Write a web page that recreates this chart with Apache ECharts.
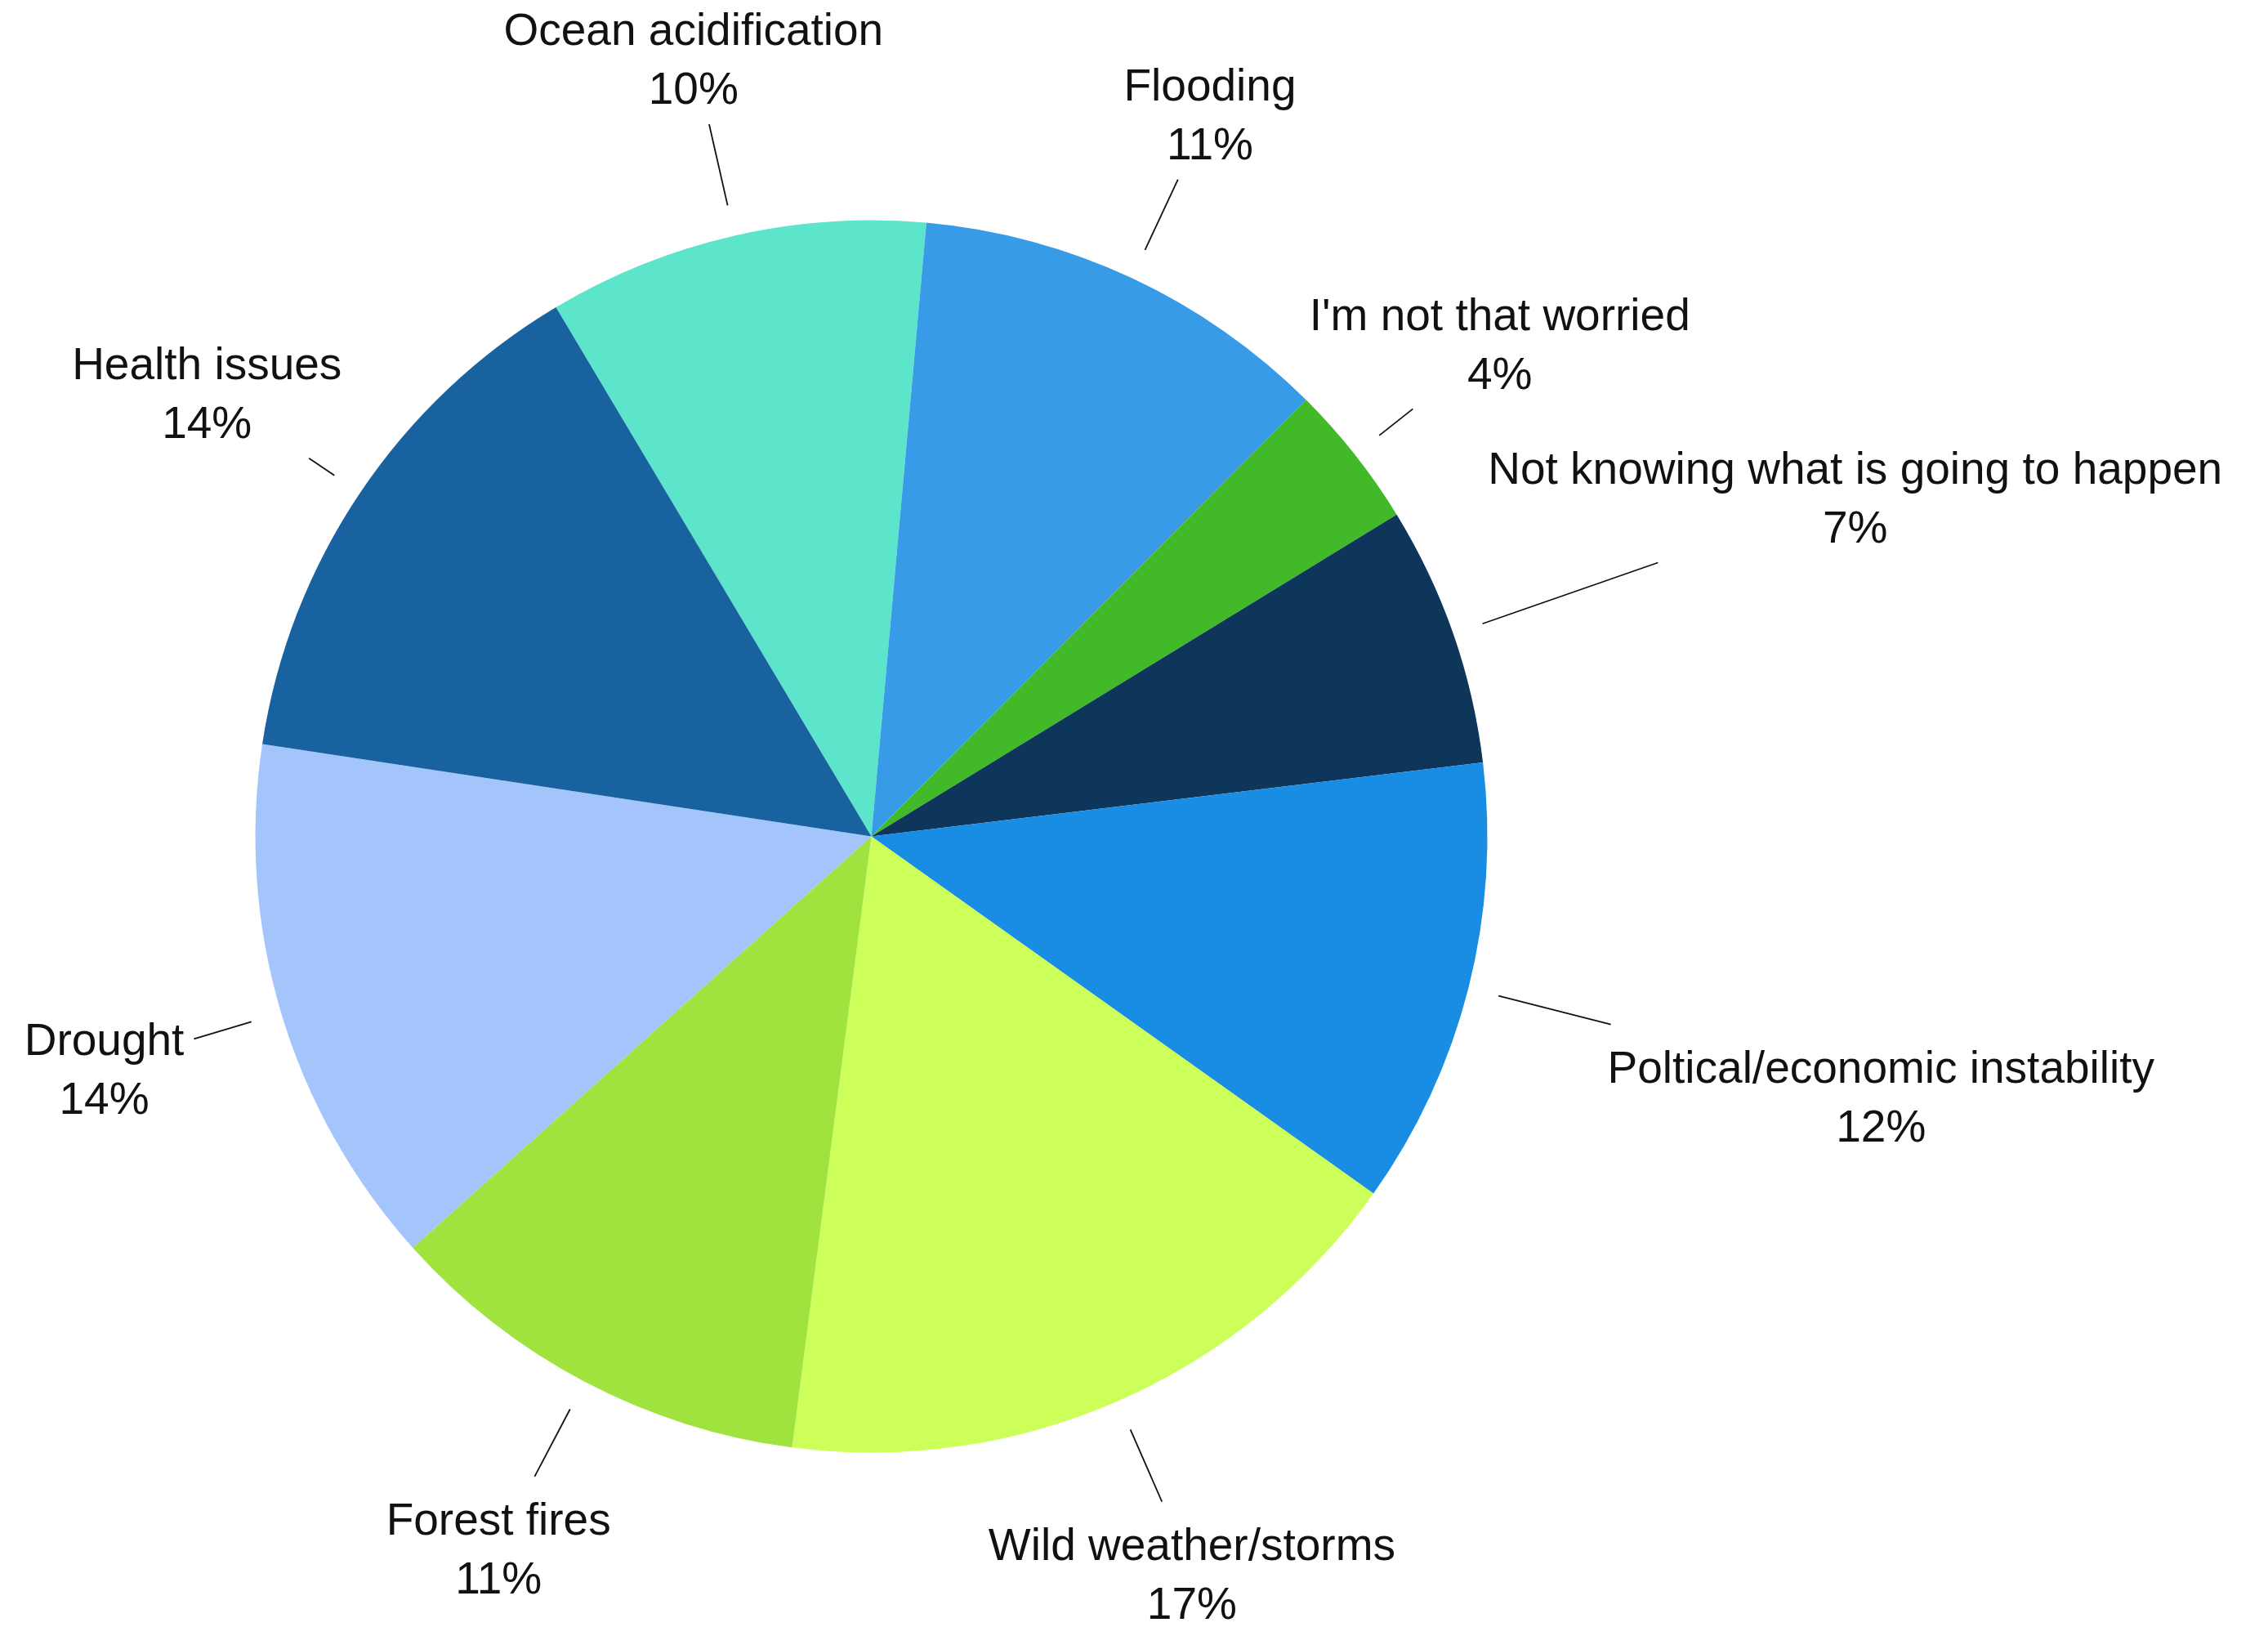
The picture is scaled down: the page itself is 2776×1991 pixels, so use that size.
<!DOCTYPE html>
<html><head><meta charset="utf-8">
<script src="https://cdn.jsdelivr.net/npm/echarts@6/dist/echarts.min.js"></script>
<style>html,body{margin:0;padding:0;background:#fff}#c{width:2776px;height:1991px}</style>
</head><body><div id="c"></div>
<script>
const categories = ['Ocean acidification', 'Flooding', "I'm not that worried", 'Not knowing what is going to happen', 'Poltical/economic instability', 'Wild weather/storms', 'Forest fires', 'Drought', 'Health issues'];
const shares = [9.98, 11.05, 3.78, 6.83, 11.75, 17.22, 11.31, 14.03, 14.05];
const colors = ['#5CE5CB', '#379BE8', '#42B928', '#0E355A', '#198CE4', '#CCFF5A', '#A1E33E', '#A3C5FC', '#18629F'];

const RADIUS = 754;
const LINE_GAP = 38;
const LABEL_DIST = 980;
const LABEL_DIST_FAR = 1275;
const farLabels = {'Not knowing what is going to happen': 1, 'Poltical/economic instability': 1};
const PAD = 12;
const TEXT_SHIFT_Y = 8;

const chart = echarts.init(document.getElementById('c'));
chart.setOption({
  animation: false,
  backgroundColor: '#ffffff',
  series: [{
    type: 'pie',
    center: ['38.42%', '51.41%'],
    radius: RADIUS,
    startAngle: 120.8,
    clockwise: true,
    avoidLabelOverlap: false,
    data: categories.map((n, i) => ({name: n, value: shares[i], itemStyle: {color: colors[i]}})),
    label: {
      show: true, position: 'outside',
      formatter: p => p.name + '\n' + Math.round(p.percent) + '%',
      fontFamily: 'Liberation Sans', fontSize: 55, lineHeight: 72, color: '#111'
    },
    labelLine: {show: true, length: 20, length2: 0, smooth: false, lineStyle: {color: '#111', width: 1.8}},
    itemStyle: {borderWidth: 0},
    emphasis: {disabled: true},
    labelLayout: function (params) {
      const pts = params.labelLinePoints;
      if (!pts) return {};
      const p0 = pts[0], p1 = pts[1];
      let dx = p1[0] - p0[0], dy = p1[1] - p0[1];
      const len = Math.hypot(dx, dy) || 1; dx /= len; dy /= len;
      const name = categories[params.dataIndex];
      const dist = (farLabels[name] ? LABEL_DIST_FAR : LABEL_DIST) - RADIUS;
      const cx = p0[0] + dx * dist, cy = p0[1] + dy * dist;
      const hw = params.labelRect.width / 2 + PAD, hh = params.labelRect.height / 2 + PAD;
      const tx = Math.abs(dx) > 1e-6 ? hw / Math.abs(dx) : Infinity;
      const ty = Math.abs(dy) > 1e-6 ? hh / Math.abs(dy) : Infinity;
      const t = Math.min(tx, ty);
      const s = [p0[0] + dx * LINE_GAP, p0[1] + dy * LINE_GAP];
      const e = [cx - dx * t, cy - dy * t];
      return {x: cx, y: cy + TEXT_SHIFT_Y, align: 'center', verticalAlign: 'middle', labelLinePoints: [s, e, e]};
    }
  }]
});
</script></body></html>
